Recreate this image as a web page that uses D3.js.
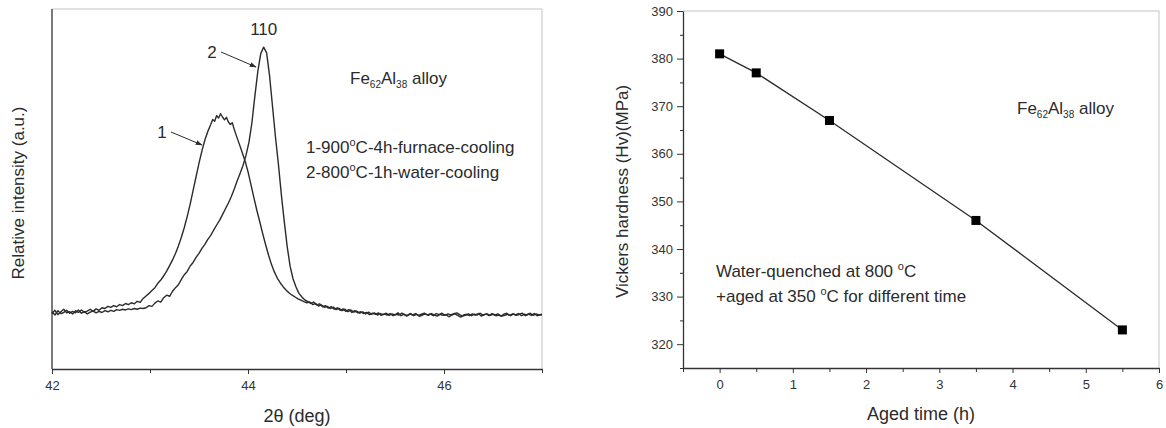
<!DOCTYPE html>
<html>
<head>
<meta charset="utf-8">
<script src="https://cdn.jsdelivr.net/npm/d3@7"></script>
<style>
  body { margin: 0; background: #fff; }
  svg { font-family: "Liberation Sans", Arial, sans-serif; }
  .axis path, .axis line { stroke: #333; }
  .axis text { fill: #333; font-size: 13px; }
</style>
</head>
<body>
<script>
// XRD (110) peak, two heat treatments: [2theta, relative intensity]
var furnace = [
  [42.00,15.4],[42.03,16.3],[42.06,15.1],[42.09,15.9],[42.12,16.6],[42.15,15.6],[42.18,15.9],[42.21,15.3],
  [42.24,16.2],[42.27,15.7],[42.30,16.4],[42.33,15.8],[42.36,16.1],[42.39,16.6],[42.42,16.0],[42.45,16.7],
  [42.48,16.3],[42.51,17.0],[42.54,16.8],[42.57,17.4],[42.60,17.1],[42.63,17.6],[42.66,17.3],[42.69,17.9],
  [42.72,17.6],[42.75,18.2],[42.78,17.9],[42.81,18.4],[42.84,18.1],[42.87,18.8],[42.90,18.5],[42.93,19.6],
  [42.96,20.3],[42.99,21.0],[43.02,21.8],[43.05,22.6],[43.08,23.8],[43.11,24.7],[43.14,25.9],[43.17,27.2],
  [43.20,28.7],[43.23,30.3],[43.26,32.1],[43.29,34.2],[43.32,36.6],[43.35,39.3],[43.38,42.4],[43.41,45.8],
  [43.44,49.6],[43.47,53.4],[43.50,57.2],[43.53,60.6],[43.56,63.6],[43.59,66.0],[43.62,67.9],[43.64,69.3],
  [43.66,68.8],[43.68,70.4],[43.70,69.7],[43.72,70.9],[43.74,70.0],[43.76,69.2],[43.78,69.9],[43.80,68.6],
  [43.82,67.9],[43.84,68.4],[43.86,66.5],[43.88,64.9],[43.91,62.6],[43.94,60.2],[43.97,57.8],[44.00,54.8],
  [44.03,51.2],[44.06,47.6],[44.09,44.1],[44.12,40.9],[44.15,37.6],[44.18,34.5],[44.21,31.6],[44.24,29.0],
  [44.27,26.9],[44.30,25.2],[44.33,23.9],[44.36,22.8],[44.39,21.9],[44.42,21.1],[44.45,20.5],[44.48,20.0],
  [44.51,19.5],[44.54,19.1],[44.57,18.7],[44.60,18.4],[44.63,18.6],[44.66,17.9],[44.69,18.2],[44.72,17.5],
  [44.75,17.8],[44.78,17.1],[44.81,17.4],[44.84,16.8],[44.87,17.2],[44.90,16.5],[44.93,16.9],[44.96,16.2],
  [44.99,16.6],[45.02,15.9],[45.05,16.4],[45.08,15.8],[45.11,16.1],[45.14,15.5],[45.17,15.9],[45.20,15.3],
  [45.23,15.8],[45.26,15.2],[45.29,15.6],[45.32,15.0],[45.35,15.4],[45.38,15.1],[45.41,15.5],[45.44,14.9],
  [45.47,15.3],[45.50,15.0],[45.53,15.6],[45.56,14.8],[45.59,15.2],[45.62,14.7],[45.65,15.3],[45.68,15.0],
  [45.71,15.4],[45.74,14.9],[45.77,15.2],[45.80,15.5],[45.83,15.0],[45.86,15.3],[45.89,14.8],[45.92,15.4],
  [45.95,15.1],[45.98,15.5],[46.01,14.9],[46.04,15.3],[46.07,15.0],[46.10,15.4],[46.13,15.6],[46.16,15.1],
  [46.19,14.7],[46.22,14.9],[46.25,15.3],[46.28,14.8],[46.31,15.2],[46.34,15.0],[46.37,15.5],[46.40,14.9],
  [46.43,15.3],[46.46,14.8],[46.49,15.4],[46.52,15.0],[46.55,15.3],[46.58,14.7],[46.61,15.2],[46.64,15.5],
  [46.67,14.9],[46.70,15.3],[46.73,15.0],[46.76,15.4],[46.79,14.8],[46.82,15.2],[46.85,15.0],[46.88,15.5],
  [46.91,14.9],[46.94,15.3],[46.97,15.0],[47.00,15.2]
];

var water = [
  [42.00,15.9],[42.03,15.0],[42.06,16.2],[42.09,15.4],[42.12,15.7],[42.15,16.3],[42.18,15.5],[42.21,16.0],
  [42.24,15.6],[42.27,16.4],[42.30,15.5],[42.33,15.9],[42.36,15.3],[42.39,15.8],[42.42,16.1],[42.45,15.6],
  [42.48,16.0],[42.51,15.7],[42.54,16.2],[42.57,15.9],[42.60,16.3],[42.63,16.0],[42.66,16.5],[42.69,16.3],
  [42.72,16.6],[42.75,16.4],[42.78,16.7],[42.81,16.5],[42.84,16.8],[42.87,16.6],[42.90,16.9],[42.93,16.8],
  [42.96,17.0],[42.99,17.6],[43.02,17.4],[43.05,18.3],[43.08,18.9],[43.11,18.6],[43.14,19.8],[43.17,20.5],
  [43.20,20.2],[43.23,21.6],[43.26,22.6],[43.29,23.4],[43.32,24.9],[43.35,26.2],[43.38,27.1],[43.41,28.6],
  [43.44,29.6],[43.47,31.0],[43.50,32.1],[43.53,33.5],[43.56,34.6],[43.59,36.0],[43.62,37.1],[43.65,38.6],
  [43.68,40.0],[43.71,41.3],[43.74,42.9],[43.77,44.5],[43.80,46.1],[43.83,47.9],[43.86,50.0],[43.89,52.3],
  [43.92,54.4],[43.95,56.6],[43.98,59.4],[44.01,63.0],[44.04,68.4],[44.07,75.8],[44.10,82.6],[44.13,87.6],
  [44.16,89.4],[44.19,87.8],[44.22,81.5],[44.25,73.0],[44.28,64.5],[44.31,57.0],[44.34,48.5],[44.37,41.0],
  [44.40,34.0],[44.43,28.5],[44.46,25.0],[44.49,22.8],[44.52,21.0],[44.55,20.0],[44.58,19.2],[44.61,18.7],
  [44.64,18.2],[44.67,18.6],[44.70,17.8],[44.73,18.1],[44.76,17.3],[44.79,17.6],[44.82,16.9],[44.85,17.3],
  [44.88,16.6],[44.91,17.0],[44.94,16.3],[44.97,16.7],[45.00,16.0],[45.03,16.5],[45.06,15.7],[45.09,16.2],
  [45.12,15.6],[45.15,15.9],[45.18,15.4],[45.21,15.7],[45.24,15.1],[45.27,15.5],[45.30,15.2],[45.33,15.6],
  [45.36,14.9],[45.39,15.3],[45.42,15.0],[45.45,15.4],[45.48,14.8],[45.51,15.2],[45.54,15.0],[45.57,15.5],
  [45.60,15.1],[45.63,14.9],[45.66,15.4],[45.69,14.8],[45.72,15.2],[45.75,14.6],[45.78,15.0],[45.81,15.3],
  [45.84,14.9],[45.87,15.4],[45.90,15.0],[45.93,14.7],[45.96,15.2],[45.99,14.9],[46.02,15.1],[46.05,14.5],
  [46.08,15.0],[46.11,15.3],[46.14,14.9],[46.17,14.4],[46.20,15.0],[46.23,15.2],[46.26,14.8],[46.29,15.3],
  [46.32,15.0],[46.35,15.4],[46.38,14.7],[46.41,15.1],[46.44,15.3],[46.47,14.9],[46.50,15.2],[46.53,14.8],
  [46.56,15.0],[46.59,14.7],[46.62,14.9],[46.65,15.2],[46.68,14.8],[46.71,15.3],[46.74,14.9],[46.77,15.2],
  [46.80,15.5],[46.83,14.8],[46.86,15.3],[46.89,14.9],[46.92,15.4],[46.95,14.8],[46.98,15.1],[47.00,15.0]
];

// hardness vs ageing time
var agedTime = [0, 0.5, 1.5, 3.5, 5.5];
var hardness = [381, 377, 367, 346, 323];

var xrdMajorTicks = [42, 44, 46];
var xrdMinorTicks = [43, 45, 47];
var timeTicks = [0, 1, 2, 3, 4, 5, 6];
var timeMinorTicks = [-0.5, 0.5, 1.5, 2.5, 3.5, 4.5, 5.5];
var hvTicks = [320, 330, 340, 350, 360, 370, 380, 390];
var hvMinorTicks = [315, 325, 335, 345, 355, 365, 375, 385];

var ink = "#2b2b2b";
var fmt = d3.format("d");

var svg = d3.select("body").append("svg")
    .attr("width", 1166)
    .attr("height", 428);

svg.append("defs").append("marker")
    .attr("id", "arrow")
    .attr("viewBox", "0 0 10 10")
    .attr("refX", 9).attr("refY", 5)
    .attr("markerWidth", 7).attr("markerHeight", 7)
    .attr("orient", "auto")
  .append("path")
    .attr("d", "M0,1.5 L10,5 L0,8.5 z")
    .attr("fill", ink);

/** LEFT: XRD pattern **/
var lm = {left: 52, top: 9},
    lw = 490, lh = 360;

var left = svg.append("g")
    .attr("transform", "translate(" + lm.left + "," + lm.top + ")");

var xL = d3.scaleLinear().domain([42, 47]).range([0, lw]);
var yL = d3.scaleLinear().domain([0, 100]).range([lh, 0]);

// light frame top/right
left.append("path")
    .attr("d", "M0,0 H" + lw + " V" + lh)
    .attr("fill", "none").attr("stroke", "#c4c4c4");

left.append("g")
    .attr("class", "axis")
    .attr("transform", "translate(0," + lh + ")")
    .call(d3.axisBottom(xL).tickValues(xrdMajorTicks).tickFormat(fmt).tickSize(5).tickPadding(7).tickSizeOuter(0))
    .call(function(g) { g.select(".domain").attr("stroke-width", 1.3); });

left.append("g")
    .attr("class", "axis")
    .attr("transform", "translate(0," + lh + ")")
    .call(d3.axisBottom(xL).tickValues(xrdMinorTicks).tickSize(4).tickFormat("").tickSizeOuter(0))
    .call(function(g) { g.select(".domain").remove(); });

left.append("line")
    .attr("x1", 0).attr("x2", 0).attr("y1", 0).attr("y2", lh)
    .attr("stroke", "#333").attr("stroke-width", 1.3);

var lineL = d3.line()
    .x(function(d) { return xL(d[0]); })
    .y(function(d) { return yL(d[1]); });

[furnace, water].forEach(function(s) {
  left.append("path")
      .datum(s)
      .attr("d", lineL)
      .attr("fill", "none")
      .attr("stroke", ink)
      .attr("stroke-width", 1.4)
      .attr("stroke-linejoin", "round");
});

left.append("text")
    .attr("x", xL(44.16)).attr("y", 26)
    .attr("text-anchor", "middle")
    .attr("font-size", 17).attr("fill", ink)
    .text("110");

left.append("text")
    .attr("x", 160).attr("y", 49)
    .attr("text-anchor", "middle")
    .attr("font-size", 17).attr("fill", ink)
    .text("2");
left.append("line")
    .attr("x1", 169).attr("y1", 43).attr("x2", 204).attr("y2", 58)
    .attr("stroke", ink).attr("marker-end", "url(#arrow)");

left.append("text")
    .attr("x", 110).attr("y", 129)
    .attr("text-anchor", "middle")
    .attr("font-size", 17).attr("fill", ink)
    .text("1");
left.append("line")
    .attr("x1", 119).attr("y1", 123).attr("x2", 150).attr("y2", 136)
    .attr("stroke", ink).attr("marker-end", "url(#arrow)");

function alloyLabel(g, x, y) {
  var t = g.append("text")
      .attr("x", x).attr("y", y)
      .attr("font-size", 17).attr("fill", ink);
  t.append("tspan").text("Fe");
  t.append("tspan").attr("font-size", 10).attr("dy", 4).text("62");
  t.append("tspan").attr("dy", -4).text("Al");
  t.append("tspan").attr("font-size", 10).attr("dy", 4).text("38");
  t.append("tspan").attr("dy", -4).text(" alloy");
}
alloyLabel(left, 298, 75);

var legendLines = [["1-900", "C-4h-furnace-cooling"], ["2-800", "C-1h-water-cooling"]];
legendLines.forEach(function(l, i) {
  var t = left.append("text")
      .attr("x", 254).attr("y", 144 + i * 25)
      .attr("font-size", 17).attr("fill", ink);
  t.append("tspan").text(l[0]);
  t.append("tspan").attr("font-size", 11).attr("dy", -7).text("o");
  t.append("tspan").attr("dy", 7).text(l[1]);
});

left.append("text")
    .attr("x", lw / 2).attr("y", 413)
    .attr("text-anchor", "middle")
    .attr("font-size", 18).attr("fill", ink)
    .text("2\u03b8 (deg)");

left.append("text")
    .attr("transform", "translate(-28," + (lh / 2 + 4) + ") rotate(-90)")
    .attr("text-anchor", "middle")
    .attr("font-size", 17).attr("fill", ink)
    .text("Relative intensity (a.u.)");

/** RIGHT: hardness vs time **/
var rm = {left: 683, top: 11},
    rw = 476, rh = 357;

var right = svg.append("g")
    .attr("transform", "translate(" + rm.left + "," + rm.top + ")");

var xR = d3.scaleLinear().domain([-0.5, 6]).range([0, rw]);
var yR = d3.scaleLinear().domain([315, 390]).range([rh, 0]);

right.append("path")
    .attr("d", "M0,0 H" + rw + " V" + rh)
    .attr("fill", "none").attr("stroke", "#c4c4c4");

right.append("g")
    .attr("class", "axis")
    .attr("transform", "translate(0," + rh + ")")
    .call(d3.axisBottom(xR).tickValues(timeTicks).tickFormat(fmt).tickSize(5).tickPadding(7).tickSizeOuter(0))
    .call(function(g) { g.select(".domain").attr("stroke-width", 1.3); });
right.append("g")
    .attr("class", "axis")
    .attr("transform", "translate(0," + rh + ")")
    .call(d3.axisBottom(xR).tickValues(timeMinorTicks).tickSize(4).tickFormat("").tickSizeOuter(0))
    .call(function(g) { g.select(".domain").remove(); });

right.append("g")
    .attr("class", "axis")
    .call(d3.axisLeft(yR).tickValues(hvTicks).tickFormat(fmt).tickSize(6).tickPadding(4).tickSizeOuter(0))
    .call(function(g) { g.select(".domain").attr("stroke-width", 1.3); });
right.append("g")
    .attr("class", "axis")
    .call(d3.axisLeft(yR).tickValues(hvMinorTicks).tickSize(3).tickFormat("").tickSizeOuter(0))
    .call(function(g) { g.select(".domain").remove(); });

var hv = agedTime.map(function(t, i) { return [t, hardness[i]]; });

right.append("path")
    .datum(hv)
    .attr("d", d3.line()
        .x(function(d) { return xR(d[0]); })
        .y(function(d) { return yR(d[1]); }))
    .attr("fill", "none")
    .attr("stroke", ink)
    .attr("stroke-width", 1.3);

right.selectAll(".pt")
    .data(hv)
  .enter().append("rect")
    .attr("class", "pt")
    .attr("x", function(d) { return xR(d[0]) - 4.5; })
    .attr("y", function(d) { return yR(d[1]) - 4.5; })
    .attr("width", 9)
    .attr("height", 9)
    .attr("fill", "#000");

alloyLabel(right, 334, 103);

var noteLines = [["Water-quenched at 800 ", "C"], ["+aged at 350 ", "C for different time"]];
noteLines.forEach(function(l, i) {
  var t = right.append("text")
      .attr("x", 33).attr("y", 266 + i * 25)
      .attr("font-size", 17).attr("fill", ink);
  t.append("tspan").text(l[0]);
  t.append("tspan").attr("font-size", 11).attr("dy", -7).text("o");
  t.append("tspan").attr("dy", 7).text(l[1]);
});

right.append("text")
    .attr("x", xR(2.75)).attr("y", 409)
    .attr("text-anchor", "middle")
    .attr("font-size", 18).attr("fill", ink)
    .text("Aged time (h)");

right.append("text")
    .attr("transform", "translate(-55," + (rh / 2 + 2) + ") rotate(-90)")
    .attr("text-anchor", "middle")
    .attr("font-size", 17).attr("fill", ink)
    .text("Vickers hardness (Hv)(MPa)");
</script>
</body>
</html>
